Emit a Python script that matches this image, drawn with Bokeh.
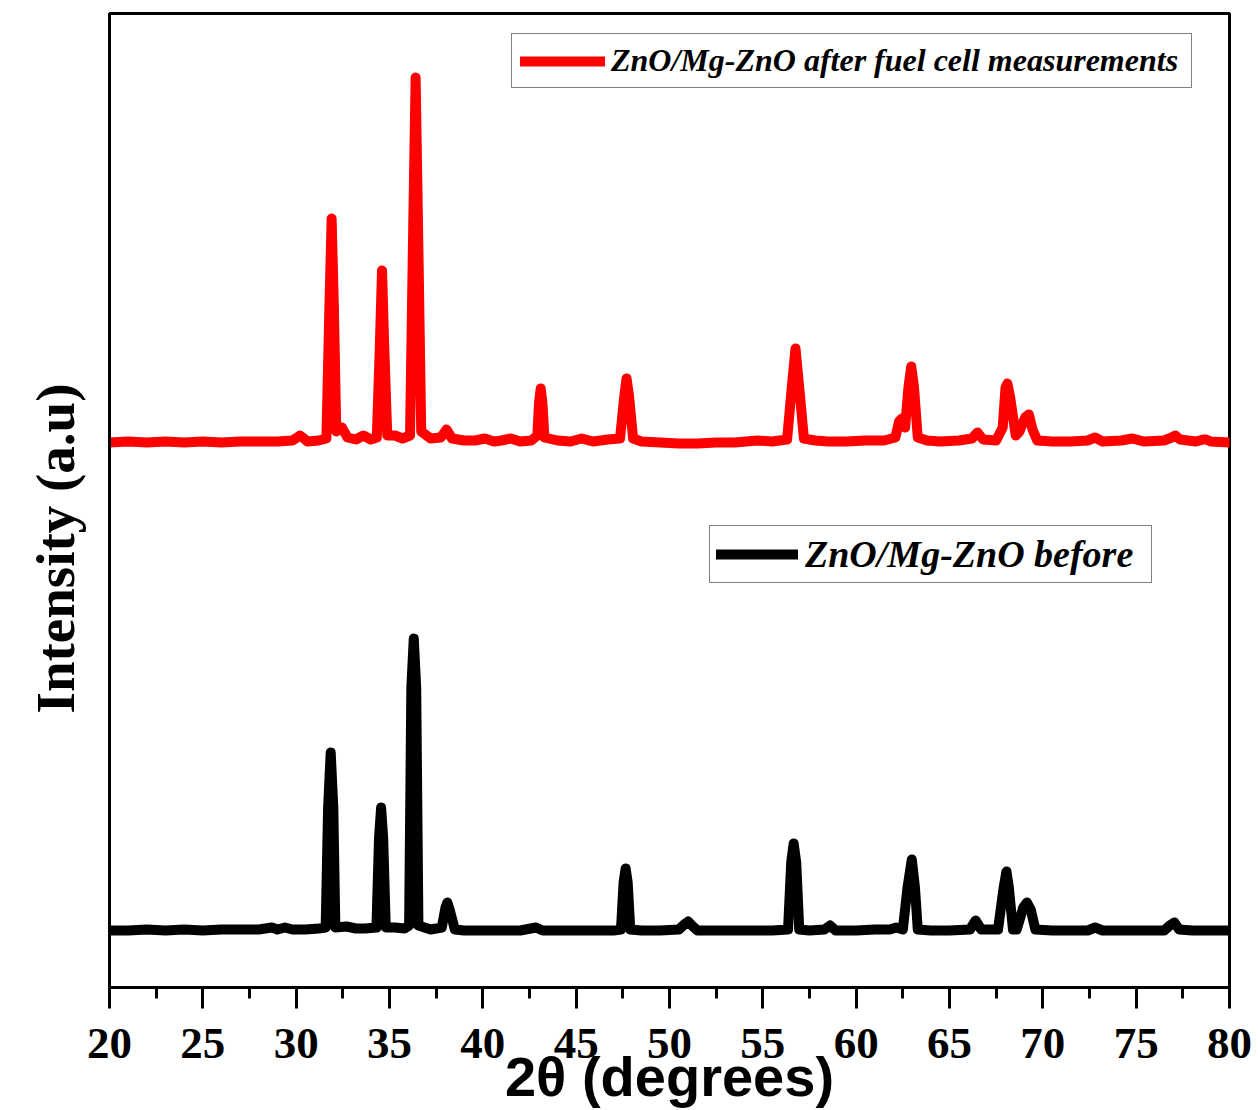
from bokeh.plotting import figure
from bokeh.models import (Range1d, SingleIntervalTicker, FixedTicker, Legend, LegendItem, Title)
from bokeh.embed import file_html
from bokeh.resources import INLINE

# ---- data (2theta in degrees, intensity in a.u.) ----
after_label = "ZnO/Mg-ZnO after fuel cell measurements"
before_label = "ZnO/Mg-ZnO before"

after_pts = [
    (20.0, 545), (21.0, 546), (22.0, 545), (23.0, 546), (24.0, 545), (25.0, 546),
    (26.0, 545), (27.0, 546), (28.0, 546), (29.0, 546), (29.8, 547), (30.05, 550),
    (30.2, 552), (30.35, 550), (30.6, 546), (31.2, 547), (31.62, 549), (31.78, 680),
    (31.9, 769), (32.02, 680), (32.15, 556), (32.45, 560), (32.75, 550), (33.2, 548),
    (33.6, 552), (34.0, 548), (34.32, 550), (34.48, 640), (34.6, 717), (34.72, 640),
    (34.88, 552), (35.3, 552), (35.7, 549), (36.1, 552), (36.27, 760), (36.4, 910),
    (36.53, 760), (36.7, 556), (37.2, 549), (37.75, 550), (38.05, 558), (38.35, 549),
    (39.0, 547), (39.6, 547), (40.1, 549), (40.6, 546), (41.0, 547), (41.5, 549),
    (42.0, 546), (42.6, 547), (42.92, 552), (43.01, 585), (43.1, 599), (43.19, 585),
    (43.3, 550), (44.0, 547), (44.7, 546), (45.3, 549), (45.9, 546), (46.7, 548),
    (47.35, 549), (47.57, 590), (47.7, 609), (47.84, 590), (48.05, 549), (48.5, 546),
    (49.5, 545), (50.5, 544), (51.5, 544), (52.5, 545), (53.5, 545), (54.7, 547),
    (55.5, 546), (56.3, 548), (56.55, 600), (56.75, 639), (56.95, 600), (57.2, 549),
    (57.8, 547), (58.5, 546), (59.5, 546), (60.5, 547), (61.5, 547), (62.1, 550),
    (62.3, 566), (62.45, 569), (62.62, 560), (62.8, 600), (62.95, 621), (63.1, 600),
    (63.3, 550), (63.8, 547), (64.5, 546), (65.5, 547), (66.2, 549), (66.5, 555),
    (66.8, 548), (67.5, 547), (67.85, 560), (68.0, 600), (68.1, 604), (68.25, 590),
    (68.55, 552), (68.75, 556), (69.05, 570), (69.25, 573), (69.45, 558), (69.7, 547),
    (70.5, 546), (71.5, 546), (72.4, 547), (72.8, 550), (73.2, 546), (74.2, 547),
    (74.8, 549), (75.4, 546), (76.5, 547), (76.9, 550), (77.1, 552), (77.35, 548),
    (78.2, 546), (78.6, 548), (78.75, 548), (79.0, 546), (80.0, 545),
]

before_pts = [
    (20.0, 57), (21.0, 57), (22.0, 58), (23.0, 57), (24.0, 58), (25.0, 57),
    (26.0, 58), (27.0, 58), (28.0, 58), (28.7, 60), (29.0, 58), (29.4, 60),
    (29.8, 58), (30.5, 58), (31.2, 59), (31.58, 60), (31.71, 180), (31.85, 235),
    (31.99, 180), (32.1, 60), (32.7, 61), (33.2, 59), (33.7, 59), (34.3, 60),
    (34.44, 150), (34.55, 180), (34.66, 150), (34.8, 60), (35.3, 60), (35.8, 59),
    (36.05, 62), (36.17, 300), (36.3, 349), (36.43, 300), (36.55, 62), (37.2, 58),
    (37.8, 60), (38.0, 80), (38.1, 85), (38.22, 78), (38.5, 58), (39.0, 57),
    (40.0, 57), (41.0, 57), (42.0, 57), (42.85, 60), (43.2, 57), (44.0, 57),
    (45.0, 57), (46.0, 57), (47.0, 57), (47.4, 58), (47.54, 105), (47.65, 119),
    (47.76, 105), (47.9, 58), (48.5, 57), (49.5, 57), (50.5, 58), (50.85, 64),
    (51.0, 66), (51.2, 62), (51.5, 57), (52.5, 57), (53.5, 57), (54.5, 57),
    (55.5, 57), (56.35, 58), (56.52, 125), (56.65, 144), (56.79, 125), (56.95, 58),
    (57.5, 57), (58.3, 58), (58.6, 62), (58.9, 57), (60.0, 57), (61.0, 58),
    (61.8, 58), (62.15, 60), (62.5, 58), (62.75, 100), (62.98, 128), (63.15, 100),
    (63.3, 58), (64.0, 57), (65.0, 57), (66.1, 58), (66.4, 67), (66.7, 58),
    (67.6, 58), (67.9, 100), (68.05, 116), (68.18, 100), (68.4, 58), (68.6, 58),
    (68.95, 80), (69.15, 85), (69.35, 78), (69.6, 58), (70.5, 57), (71.5, 57),
    (72.4, 57), (72.8, 60), (73.2, 57), (74.5, 57), (75.5, 57), (76.5, 57),
    (76.8, 62), (77.05, 65), (77.3, 58), (78.0, 57), (79.0, 57), (80.0, 57),
]

x_ticks_interval = 5
x_label = "2\u03b8 (degrees)"
y_label = "Intensity (a.u)"

after_x = [p[0] for p in after_pts]
after_y = [p[1] for p in after_pts]
before_x = [p[0] for p in before_pts]
before_y = [p[1] for p in before_pts]

# ---- figure ----
p = figure(width=1258, height=1110, output_backend="svg", toolbar_location=None,
           x_range=Range1d(20, 80), y_range=Range1d(0, 974),
           min_border_left=109, min_border_right=29, min_border_top=13, min_border_bottom=123)
p.background_fill_color = "white"
p.border_fill_color = "white"
p.grid.visible = False
p.outline_line_color = "black"
p.outline_line_width = 3

r_after = p.line(after_x, after_y, line_color="#ff0000", line_width=10,
                 line_join="round", line_cap="round")
r_before = p.line(before_x, before_y, line_color="black", line_width=10,
                  line_join="round", line_cap="round")

# x axis
xa = p.xaxis[0]
xa.ticker = SingleIntervalTicker(interval=x_ticks_interval, num_minor_ticks=2)
xa.axis_line_width = 3
xa.major_tick_line_width = 3
xa.minor_tick_line_width = 3
xa.major_tick_in = 0
xa.major_tick_out = 21
xa.minor_tick_in = 0
xa.minor_tick_out = 11
xa.major_label_text_font = "Liberation Serif"
xa.major_label_text_font_style = "bold"
xa.major_label_text_font_size = "45px"
xa.major_label_text_color = "black"
xa.major_label_standoff = 20
xa.axis_label = x_label
xa.axis_label_text_font = "Liberation Sans"
xa.axis_label_text_font_style = "bold"
xa.axis_label_text_font_size = "56px"
xa.axis_label_text_color = "black"
xa.axis_label_standoff = -16

# y axis: line only
ya = p.yaxis[0]
ya.ticker = FixedTicker(ticks=[])
ya.axis_line_width = 3
ya.major_tick_line_color = None
ya.minor_tick_line_color = None
ya.major_label_standoff = 0

yt = Title(text=y_label, align="left", offset=274, standoff=44, vertical_align="top",
           text_font="Liberation Serif", text_font_style="bold",
           text_font_size="55px", text_color="black")
p.add_layout(yt, "left")

leg1 = Legend(items=[LegendItem(label=after_label, renderers=[r_after])],
              location=(402, 899), orientation="vertical")
leg1.label_text_font = "Liberation Serif"
leg1.label_text_font_style = "bold italic"
leg1.label_text_font_size = "32px"
leg1.label_text_color = "black"
leg1.glyph_width = 85
leg1.glyph_height = 20
leg1.label_standoff = 6
leg1.label_width = 572
leg1.padding = 8
leg1.margin = 0
leg1.border_line_color = "black"
leg1.border_line_width = 1.5
leg1.background_fill_alpha = 1.0

leg2 = Legend(items=[LegendItem(label=before_label, renderers=[r_before])],
              location=(600, 404), orientation="vertical")
leg2.label_text_font = "Liberation Serif"
leg2.label_text_font_style = "bold italic"
leg2.label_text_font_size = "38px"
leg2.label_text_color = "black"
leg2.glyph_width = 82
leg2.glyph_height = 20
leg2.label_standoff = 7
leg2.label_width = 340
leg2.padding = 6
leg2.margin = 0
leg2.border_line_color = "black"
leg2.border_line_width = 1.5
leg2.background_fill_alpha = 1.0

p.add_layout(leg1, "center")
p.add_layout(leg2, "center")

open("out.html", "w").write(file_html(p, INLINE))
